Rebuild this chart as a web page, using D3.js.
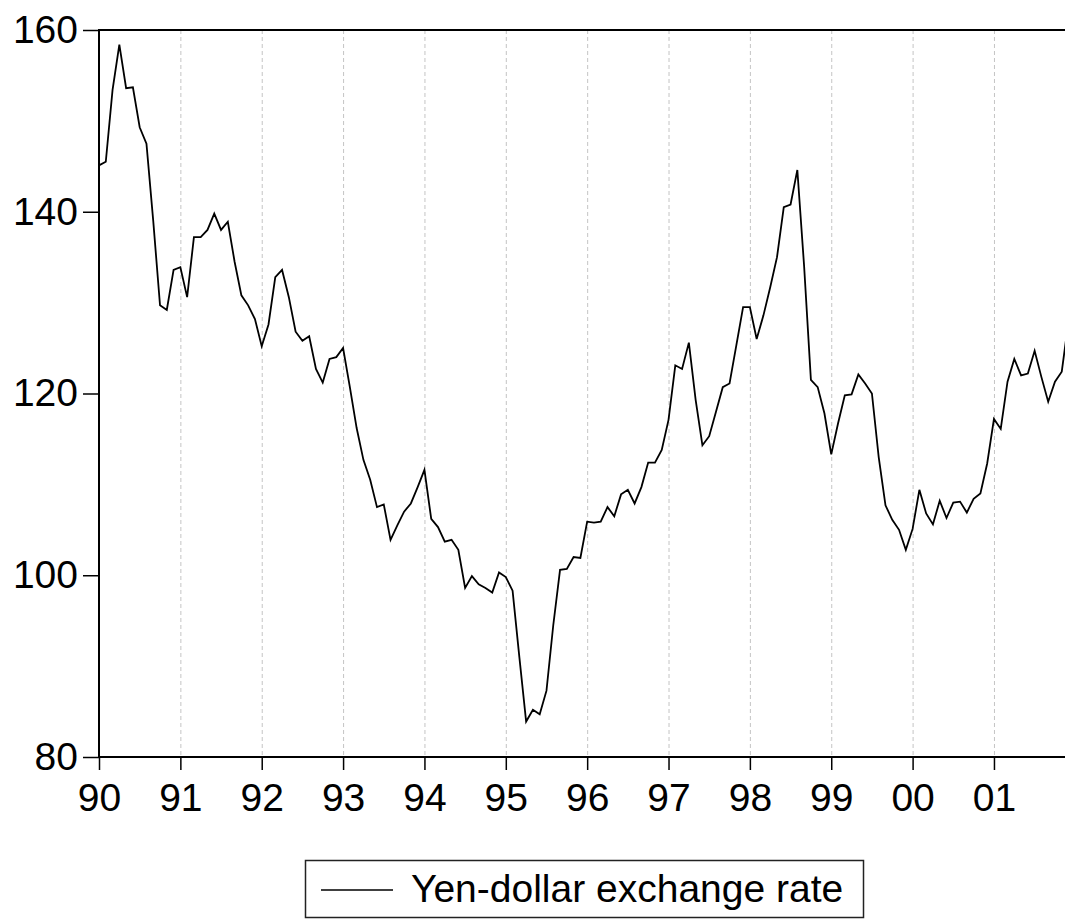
<!DOCTYPE html>
<html>
<head>
<meta charset="utf-8">
<script src="https://cdn.jsdelivr.net/npm/d3@7"></script>
<style>
	body { margin: 0; background: #fff; }
	svg { display: block; font-family: "Liberation Sans", Arial, sans-serif; }
	.axis text { font-size: 39px; fill: #000; }
	.axis line { stroke: #000; stroke-width: 1.5; }
	.grid line { stroke: #c4c4c4; stroke-width: 1; stroke-dasharray: 4,3; }
</style>
</head>
<body>
<div id="chart"></div>
<script>
// Monthly yen-dollar exchange rate, Jan 1990 - Dec 2001
const rate_1990 = [145.1, 145.5, 153.4, 158.4, 153.6, 153.7, 149.3, 147.5, 139.0, 129.7, 129.2, 133.6]
const rate_1991 = [133.9, 130.6, 137.2, 137.2, 138.0, 139.8, 138.0, 138.9, 134.5, 130.8, 129.7, 128.2]
const rate_1992 = [125.2, 127.6, 132.8, 133.6, 130.6, 126.8, 125.8, 126.3, 122.7, 121.2, 123.8, 124.0]
const rate_1993 = [125.0, 120.7, 116.2, 112.7, 110.5, 107.5, 107.8, 103.9, 105.5, 107.0, 107.9, 109.7]
const rate_1994 = [111.6, 106.2, 105.3, 103.7, 103.9, 102.8, 98.6, 99.9, 99.0, 98.6, 98.1, 100.3]
const rate_1995 = [99.8, 98.3, 91.0, 83.9, 85.2, 84.7, 87.3, 94.5, 100.6, 100.7, 102.0, 101.9]
const rate_1996 = [105.9, 105.8, 105.9, 107.5, 106.5, 108.9, 109.4, 107.9, 109.7, 112.4, 112.4, 113.8]
const rate_1997 = [117.1, 123.1, 122.7, 125.6, 119.3, 114.3, 115.3, 118.0, 120.7, 121.1, 125.3, 129.5]
const rate_1998 = [129.5, 126.0, 128.6, 131.7, 135.0, 140.5, 140.8, 144.6, 134.0, 121.5, 120.7, 117.8]
const rate_1999 = [113.3, 116.7, 119.8, 119.9, 122.1, 121.1, 120.0, 113.0, 107.7, 106.1, 105.0, 102.8]
const rate_2000 = [105.1, 109.4, 106.8, 105.6, 108.2, 106.3, 108.0, 108.1, 106.9, 108.4, 109.0, 112.3]
const rate_2001 = [117.2, 116.1, 121.3, 123.8, 122.0, 122.2, 124.7, 121.8, 119.1, 121.3, 122.4, 128.0]

const year_labels = ['90', '91', '92', '93', '94', '95', '96', '97', '98', '99', '00', '01']
const y_ticks = [80, 100, 120, 140, 160]
const series_name = 'Yen-dollar exchange rate'

const rates = [].concat(rate_1990, rate_1991, rate_1992, rate_1993, rate_1994, rate_1995,
	rate_1996, rate_1997, rate_1998, rate_1999, rate_2000, rate_2001)

const W = 1065, H = 919
const plot_left = 99, plot_top = 30, plot_bottom = 757
const step = 6.78 // px per month

const $svg = d3.select('#chart').append('svg')
	.attr('width', W)
	.attr('height', H)

let x = d3.scaleLinear()
	.domain([0, rates.length - 1])
	.range([plot_left, plot_left + (rates.length - 1) * step])

let y = d3.scaleLinear()
	.domain([80, 160])
	.range([plot_bottom, plot_top])

const year_idx = year_labels.map((_, i) => i * 12)

// Vertical dashed gridlines at each year
$svg.append('g')
	.attr('class', 'grid')
	.selectAll('line')
	.data(year_idx.slice(1))
	.enter()
	.append('line')
	.attr('x1', d => x(d) + 0.5)
	.attr('x2', d => x(d) + 0.5)
	.attr('y1', plot_top)
	.attr('y2', plot_bottom)

// Frame (right side falls outside the picture)
$svg.append('rect')
	.attr('x', plot_left)
	.attr('y', plot_top)
	.attr('width', x.range()[1] + 20 - plot_left)
	.attr('height', plot_bottom - plot_top)
	.attr('fill', 'none')
	.attr('stroke', '#000')
	.attr('stroke-width', 2)

// Series
const line = d3.line()
	.x((d, i) => x(i))
	.y(d => y(d))

$svg.append('path')
	.datum(rates)
	.attr('d', line)
	.attr('fill', 'none')
	.attr('stroke', '#000')
	.attr('stroke-width', 1.8)
	.attr('stroke-linejoin', 'miter')

// Axes
const $y_axis = $svg.append('g')
	.attr('class', 'axis axis--y')
	.attr('transform', `translate(${plot_left}, 0)`)
	.call(d3.axisLeft(y).tickValues(y_ticks).tickSize(16).tickPadding(5).tickFormat(d3.format('d')))
$y_axis.select('.domain').remove()

const $x_axis = $svg.append('g')
	.attr('class', 'axis axis--x')
	.attr('transform', `translate(0, ${plot_bottom})`)
	.call(d3.axisBottom(x).tickValues(year_idx).tickSize(13).tickPadding(13)
		.tickFormat((d, i) => year_labels[i]))
$x_axis.select('.domain').remove()

// Legend
const $legend = $svg.append('g')
	.attr('class', 'legend')

$legend.append('rect')
	.attr('x', 305.5)
	.attr('y', 860.5)
	.attr('width', 558)
	.attr('height', 57)
	.attr('fill', 'none')
	.attr('stroke', '#222')
	.attr('stroke-width', 1.5)

$legend.append('line')
	.attr('x1', 321)
	.attr('x2', 393)
	.attr('y1', 890)
	.attr('y2', 890)
	.attr('stroke', '#000')
	.attr('stroke-width', 1.5)

$legend.append('text')
	.attr('x', 411)
	.attr('y', 902)
	.style('font-size', '39px')
	.text(series_name)
</script>
</body>
</html>
